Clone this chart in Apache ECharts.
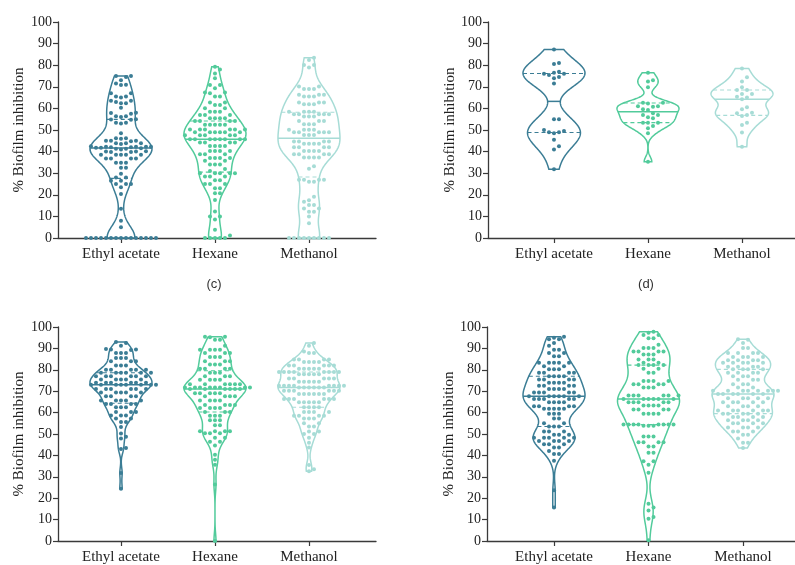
<!DOCTYPE html>
<html><head><meta charset="utf-8">
<script src="https://cdn.jsdelivr.net/npm/echarts@6/dist/echarts.min.js"></script>
<style>html,body{margin:0;padding:0;background:#fff}#c{width:795px;height:565px}</style>
</head><body><div id="c"></div>
<script>
const categories = ['Ethyl acetate', 'Hexane', 'Methanol'];
const yTickValues = [0, 10, 20, 30, 40, 50, 60, 70, 80, 90, 100];
const panelCaptions = ['(c)', '(d)'];
const yAxisTitle = '% Biofilm inhibition';

// ---- top-left panel ----
const a_ethyl = [75,75,74.5,73,71.5,71,70.8,67,67,65.5,65.5,65,63.5,63.5,63,62.4,62.4,60.3,58,57.9,57.5,56.4,56.4,56,55,54.9,54.8,53.4,53.4,53,48.5,46.2,46.2,46,45,45,45,44.8,43.9,43.9,43.9,43.5,42.5,42.3,42.3,42.2,42.2,42,42,41.8,41.8,41.5,41.3,41.3,41,40.2,40,40,39.8,39.8,38.5,38.5,38.5,38.5,38.5,36.8,36.8,36.8,36.8,34.8,34.8,34.8,32.5,32.5,29.8,28,28,26.5,26.5,25,25,25,23.5,20.4,13.5,8,5,0,0,0,0,0,0,0,0,0,0,0,0,0,0,0];
const a_hexane = [79.3,78,76.2,74,70.8,70.8,69.3,67.4,67.4,67,65.5,65.5,62.7,62.7,61.6,61.6,60.1,60.1,58.5,58.5,58.5,57,57,57,55.4,55.4,55.4,55.4,54.2,54.2,54.2,54.2,52.4,52.4,52.4,52.4,52.4,50.2,50.2,50.2,50.2,50.2,50.2,49,49,49,49,49,49,47.6,47.6,47.6,47.6,47.6,45.7,45.7,45.7,45.7,45.7,45.7,45.7,45.7,44.2,44.2,44.2,44.2,42.6,42.6,42.6,42.6,40.3,40.3,40.3,40.3,38.8,38.8,38.8,37,37,37,37,35.8,35.8,34,34,34,32,31,30,30,30,30,30,28.5,28.5,28.5,26.7,26.7,25,25,25,23,23,20.7,20.7,17.6,12.3,10,10,8.6,3.8,1.2,0,0,0,0,0];
const a_methanol = [83.5,82.4,80.1,80.1,78.9,70.1,70.1,69,69,69,66.3,66.3,66.3,65.5,65.5,65.5,62.7,62.7,62.7,61.9,61.9,61.9,58.5,58.5,58.5,58.5,57.3,57.3,57.3,57.3,57.3,56.2,56.2,56.2,54.2,54.2,54.2,52.7,52.7,52.7,50.1,50.1,50.1,50.1,49,49,49,49,49,47.7,47.7,47.7,44.7,44.7,44.7,44.7,43.6,43.6,43.6,43.6,42,42,42,42,40.3,40.3,40.3,40.3,38.8,38.8,38.8,38.8,37.3,37.3,37.3,37.3,33.2,32.1,27,27,27,27,26,26,19.1,17.5,16.8,15.3,15.3,13.7,13.7,12.2,12.2,9.9,6.8,0,0,0,0,0,0,0,0,0];

// ---- top-right panel ----
const b_ethyl = [87.3,81,80.5,77,76.5,76,76,75.5,74.5,74,71.5,55,55,50,49.5,49,49,48.5,45.5,42.5,41,31.8];
const b_hexane = [76.5,73,72.5,69.8,62.6,62.6,62.3,61,61,60.8,59.6,59.3,57.7,57,57,55.9,55.4,53.4,53.4,53.4,51.9,50.8,48.5,35.3];
const b_methanol = [78.5,74.4,72.4,69.8,68.5,68.5,66.7,66.7,65.4,65.1,64.2,60.5,59.6,58,57.7,57,56.5,53.4,52.3,48.8,42.3];

// ---- bottom-left panel ----
const c_ethyl = [93,92.5,91.2,89.7,89.5,89.5,89.2,87.8,87.8,87.8,85.5,85.5,85.5,84,84,84,82,82,82,80,80,80,80,80,78.6,78.6,78.6,78.6,78.6,78.6,77,77,77,77,77,77,75.5,75.5,75.5,75.5,75.5,74,74,74,74,74,74,73,73,73,73,73,73,73,73,71,71,71,71,71,71,69.4,69.4,69.4,69.4,69.4,67.6,67.6,67.6,67.6,65.6,65.6,65.6,65.6,65.6,64,64,64,64,62.5,62.5,62.5,60.3,60.3,60.3,58.7,58.7,58.7,57.2,57.2,55.6,55.6,53.3,50.2,48.7,47.9,43.5,43,31.8,24.4];
const c_hexane = [95.5,95.5,95.2,94,94,91.2,89.4,89.4,89.4,89.4,87.8,87.8,87.8,86,86,86,84,84,84,82.5,82.5,82.5,80.5,80.5,80.5,80.5,78.6,78.6,78.6,77,77,77,75.3,75.3,75.3,75.3,73.3,73.3,73.3,73.3,73.3,73.3,71.7,71.7,71.7,71.7,71.7,71.7,71.7,71.7,71,71,71,71,71,71,69.1,69.1,69.1,69.1,69.1,67.6,67.6,67.6,67.6,65.6,65.6,65.6,65.6,63.6,63.6,63.6,63.6,62.1,62.1,62.1,62.1,60.3,60.3,60.3,58.5,58.5,58.5,56.4,56.4,56.4,54.1,54.1,51.3,51.3,51.3,51.3,50.3,50.3,50.3,48.3,48.3,46.4,46.4,44.6,40.3,38,35.6,26.4,0];
const c_methanol = [92.5,91.2,88.6,87.8,87.8,84.8,84.8,84.8,84.8,83.6,83.6,83.6,83.6,82,82,82,82,82,80.5,80.5,80.5,80.5,80.5,79,79,79,79,79,79,79,79,77.9,77.9,77.9,77.9,77.9,75.9,75.9,75.9,75.9,75.9,74.4,74.4,74.4,74.4,74.4,72.5,72.5,72.5,72.5,72.5,72.5,72.5,72.5,71.7,71.7,71.7,71.7,71.7,71.7,70.2,70.2,70.2,70.2,70.2,70.2,68.7,68.7,68.7,68.7,68.7,68.7,66.4,66.4,66.4,66.4,66.4,66.4,64.8,64.8,64.8,64.8,64.8,62.5,62.5,62.5,62.5,60.3,60.3,60.3,60.3,58.5,58.5,58.5,58.5,57.2,57.2,57.2,55,55,53.5,53.5,51.2,51.2,50,50,48.2,45.9,43.7,35.5,33.5,32.6];

// ---- bottom-right panel ----
const d_ethyl = [95.5,95,94.3,94.3,92.5,91.2,89.4,89.4,87.8,87.8,86.3,86.3,83.3,83.3,83.3,83.3,83.3,81.7,81.7,80.2,80.2,80.2,78.6,78.6,78.6,78.6,77,77,77,77,75.5,75.5,75.5,75.5,74,74,74,74,72.5,72.5,72.5,72.5,71,71,71,71,69.4,69.4,69.4,69.4,69.4,67.6,67.6,67.6,67.6,67.6,67.6,66.4,66.4,66.4,66.4,66.4,64.8,64.8,64.8,64.8,63,63,63,63,61.8,61.8,61.8,61.8,61.8,59.5,59.5,59.5,57.2,57.2,55,55,53.5,53.5,53.5,51.2,51.2,51.2,49.7,49.7,49.7,48.2,48.2,48.2,48.2,48.2,46.7,46.7,46.7,46.7,45.2,45.2,45.2,43.7,43.7,42.1,40.6,40.6,37.5,23.7,15.7];
const d_hexane = [97.8,97.3,96.3,96.3,94.8,94.8,91.7,90.2,90.2,90.2,88.6,88.6,88.6,88.6,87.1,87.1,87.1,84.8,84.8,84.8,83.3,83.3,82.2,82.2,82.2,82.2,80.5,80.5,78.6,78.6,74.8,74.8,74.8,74.8,73.3,73.3,73.3,73.3,71.7,71.7,71.7,68,68,68,68,68,68,66.4,66.4,66.4,66.4,66.4,66.4,64.8,64.8,64.8,64.8,64.8,63.3,63.3,63.3,63.3,61.4,61.4,61.4,61.4,59.5,59.5,59.5,59.5,54.4,54.4,54.4,54.4,54.4,54.4,54.4,54.4,53.8,53.8,53.8,48.8,48.8,48.8,46.2,46.2,46.2,46.2,44.2,44.2,41.2,41.2,37.3,37.3,35.6,31.9,17.4,15.7,14.2,11.2,10.4,0.3];
const d_methanol = [94.3,94,92.5,90.2,90.2,87.8,87.8,87.8,87.8,86,86,86,86,84.5,84.5,84.5,84.5,83.3,83.3,83.3,83.3,83.3,81.4,81.4,81.4,81.4,80.2,80.2,80.2,80.2,78.6,78.6,78.6,78.6,77,77,77,75.3,75.3,75.3,73.3,73.3,73.3,71.7,71.7,70.2,70.2,70.2,70.2,70.2,70.2,70.2,70.2,68.7,68.7,68.7,68.7,68.7,68.7,66.7,66.7,66.7,66.7,66.7,64.8,64.8,64.8,64.8,64.8,63,63,63,63,61,61,61,61,61,61,59.5,59.5,59.5,59.5,59.5,58,58,58,58,56.4,56.4,56.4,56.4,55,55,55,55,53,53,53,53,51.2,51.2,51.2,49.7,49.7,47.9,45.9,45.9,43.5];

const panels = [
  [a_ethyl, a_hexane, a_methanol],
  [b_ethyl, b_hexane, b_methanol],
  [c_ethyl, c_hexane, c_methanol],
  [d_ethyl, d_hexane, d_methanol]
];

// ---- layout / style ----
const colors = ['#3b7d95', '#52cb9b', '#a7dcd6'];
const grids = [
  {left: 58, top: 22, width: 318, height: 216, xmin: -0.67, xmax: 2.713, nameGap: 31},
  {left: 488, top: 22, width: 307, height: 216, xmin: -0.702, xmax: 2.564, nameGap: 28},
  {left: 58, top: 327, width: 318, height: 217, xmin: -0.67, xmax: 2.713, nameGap: 31},
  {left: 487, top: 327, width: 308, height: 217, xmin: -0.709, xmax: 2.55, nameGap: 29}
];
const FONT = '"Liberation Serif", "DejaVu Serif", serif';
const HALF_W_PX = 31;   // max half width of a violin
const DOT = 4.0;        // dot diameter
const STEP = 5.0;       // horizontal spacing of dots
const MIN_DIST = 4.4;   // minimal centre distance of dots
const BW_FACTOR = 0.7;  // kde bandwidth factor relative to Silverman

function quant(s, p) {
  const pos = (s.length + 1) * p, lo = Math.floor(pos), f = pos - lo;
  if (lo < 1) return s[0];
  if (lo >= s.length) return s[s.length - 1];
  return s[lo - 1] + f * (s[lo] - s[lo - 1]);
}
function violinStats(vals, unitsPerPxX) {
  const s = vals.slice().sort((a, b) => a - b);
  const n = s.length;
  const mean = s.reduce((a, b) => a + b, 0) / n;
  const sd = Math.sqrt(s.reduce((a, b) => a + (b - mean) * (b - mean), 0) / (n - 1));
  const q1 = quant(s, 0.25), med = quant(s, 0.5), q3 = quant(s, 0.75);
  const spread = Math.min(sd, (q3 - q1) / 1.34) || sd;
  const h = 0.9 * spread * Math.pow(n, -0.2) * BW_FACTOR;
  const lo = s[0], hi = s[n - 1];
  const steps = 200;
  const prof = [];
  let dmax = 0;
  const dens = y => { let d = 0; for (const v of s) { const z = (y - v) / h; d += Math.exp(-0.5 * z * z); } return d; };
  for (let k = 0; k <= steps; k++) {
    const y = lo + (hi - lo) * k / steps;
    const d = dens(y);
    prof.push([y, d]);
    if (d > dmax) dmax = d;
  }
  const W = HALF_W_PX * unitsPerPxX;
  prof.forEach(p => { p[1] = p[1] / dmax * W; });
  return {prof, q1, med, q3, widthAt: q => dens(q) / dmax * W};
}
function swarm(vals, pxPerUnitY) {
  const idx = vals.map((v, i) => i).sort((a, b) => vals[a] - vals[b]);
  const placed = [];
  const out = new Array(vals.length);
  for (const i of idx) {
    const y = vals[i] * pxPerUnitY;
    for (let k = 0; k < 400; k++) {
      const off = (k === 0 ? 0 : (k % 2 ? 1 : -1) * Math.ceil(k / 2)) * STEP;
      let ok = true;
      for (const p of placed) {
        const dx = p.x - off, dy = p.y - y;
        if (dx * dx + dy * dy < MIN_DIST * MIN_DIST) { ok = false; break; }
      }
      if (ok) { placed.push({x: off, y}); out[i] = off; break; }
    }
  }
  return out;
}

const option = {
  animation: false,
  backgroundColor: '#fff',
  grid: [], xAxis: [], yAxis: [], series: [],
  graphic: [
    {type: 'text', x: 214, y: 284, style: {text: panelCaptions[0], align: 'center', verticalAlign: 'middle', fontSize: 13, fontFamily: '"Liberation Sans", Arial, sans-serif', fill: '#333'}},
    {type: 'text', x: 646, y: 284, style: {text: panelCaptions[1], align: 'center', verticalAlign: 'middle', fontSize: 13, fontFamily: '"Liberation Sans", Arial, sans-serif', fill: '#333'}}
  ]
};

grids.forEach((g, gi) => {
  option.grid.push({left: g.left, top: g.top, width: g.width, height: g.height, containLabel: false});
  const pxPerUnitX = g.width / (g.xmax - g.xmin);
  const pxPerUnitY = g.height / 100;
  option.xAxis.push({
    type: 'value', gridIndex: gi, min: g.xmin, max: g.xmax,
    axisLine: {show: true, onZero: false, lineStyle: {color: '#3a3a3a', width: 1.3}},
    splitLine: {show: false},
    axisTick: {show: true, customValues: [0, 1, 2], length: 5, lineStyle: {color: '#3a3a3a', width: 1.2}},
    axisLabel: {customValues: [0, 1, 2], formatter: v => categories[Math.round(v)], fontFamily: FONT, fontSize: 15, color: '#222', margin: 9}
  });
  option.yAxis.push({
    type: 'value', gridIndex: gi, min: 0, max: 100, interval: 10,
    name: yAxisTitle, nameLocation: 'middle', nameGap: g.nameGap, nameRotate: 90,
    nameTextStyle: {fontFamily: FONT, fontSize: 15, color: '#222'},
    axisLine: {show: true, onZero: false, lineStyle: {color: '#3a3a3a', width: 1.3}},
    splitLine: {show: false},
    axisTick: {show: true, length: 5, lineStyle: {color: '#3a3a3a', width: 1.2}},
    axisLabel: {fontFamily: FONT, fontSize: 14, color: '#222', margin: 6,
      formatter: v => yTickValues.includes(v) ? String(v) : ''}
  });
  const stats = panels[gi].map(vals => violinStats(vals, 1 / pxPerUnitX));
  option.series.push({
    type: 'custom', xAxisIndex: gi, yAxisIndex: gi, silent: true, clip: false, z: 2,
    data: stats.map((st, ci) => [ci, st.med]),
    renderItem: (params, api) => {
      const ci = api.value(0);
      const st = stats[ci];
      const col = colors[ci];
      const pts = [];
      st.prof.forEach(([y, w]) => pts.push(api.coord([ci - w, y])));
      for (let k = st.prof.length - 1; k >= 0; k--) { const [y, w] = st.prof[k]; pts.push(api.coord([ci + w, y])); }
      const children = [{type: 'polygon', shape: {points: pts}, style: {fill: 'none', stroke: col, lineWidth: 1.5}}];
      [[st.q1, true], [st.med, false], [st.q3, true]].forEach(([q, dash]) => {
        const w = st.widthAt(q);
        const p1 = api.coord([ci - w, q]), p2 = api.coord([ci + w, q]);
        children.push({type: 'line', shape: {x1: p1[0], y1: p1[1], x2: p2[0], y2: p2[1]},
          style: {stroke: col, lineWidth: dash ? 1.1 : 1.5, lineDash: dash ? [4, 3] : null}});
      });
      return {type: 'group', children};
    }
  });
  panels[gi].forEach((vals, ci) => {
    const offs = swarm(vals, pxPerUnitY);
    option.series.push({
      type: 'scatter', xAxisIndex: gi, yAxisIndex: gi, symbol: 'circle', symbolSize: DOT, z: 3, silent: true,
      itemStyle: {color: colors[ci], opacity: 1},
      data: vals.map((v, i) => [ci + offs[i] / pxPerUnitX, v])
    });
  });
});

const chart = echarts.init(document.getElementById('c'), null, {renderer: 'canvas'});
chart.setOption(option);
</script>
</body></html>
